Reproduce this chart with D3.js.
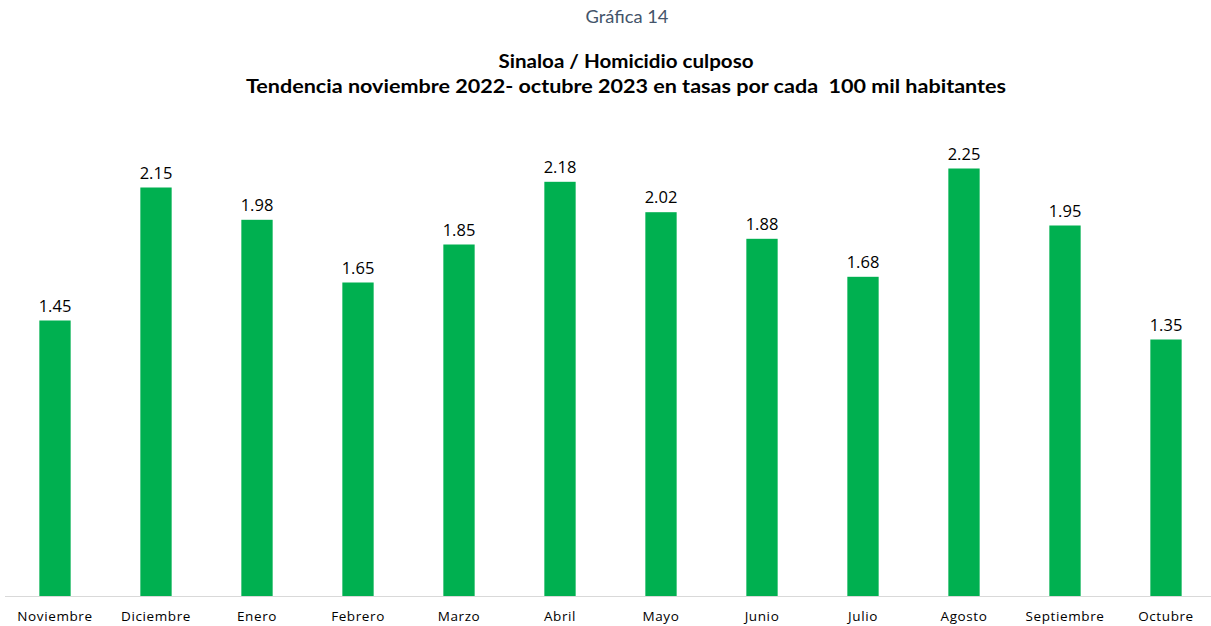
<!DOCTYPE html>
<html><head><meta charset="utf-8">
<script src="https://cdn.jsdelivr.net/npm/d3@7"></script>
<style>body{margin:0;background:#fff}svg{display:block}</style>
</head><body>
<script>
const categories = ["Noviembre","Diciembre","Enero","Febrero","Marzo","Abril","Mayo","Junio","Julio","Agosto","Septiembre","Octubre"];
const values = [1.45,2.15,1.98,1.65,1.85,2.18,2.02,1.88,1.68,2.25,1.95,1.35];
const supTitle = "Gráfica 14";
const titleLines = ["Sinaloa / Homicidio culposo","Tendencia noviembre 2022- octubre 2023 en tasas por cada  100 mil habitantes"];
const titleWidths = [255, 760];

const W = 1211, H = 626;
const svg = d3.select("body").append("svg").attr("width", W).attr("height", H);
const x = d3.scaleBand().domain(categories).range([4.5, 1216.5]).paddingInner(0.69).paddingOuter(0.345);
const y = d3.scaleLinear().domain([0, 2.25]).range([596, 168.5]);

svg.append("text").attr("x", 627).attr("y", 23).attr("text-anchor","middle")
  .attr("font-family","Lato").attr("font-size",17).attr("fill","#44546A")
  .attr("textLength",83).attr("lengthAdjust","spacingAndGlyphs").text(supTitle);
svg.selectAll("text.title").data(titleLines).enter().append("text").attr("class","title")
  .attr("x", 626).attr("y",(d,i)=>68+i*25).attr("text-anchor","middle")
  .attr("font-family","Lato").attr("font-weight","bold").attr("font-size",18).attr("fill","#000")
  .attr("textLength",(d,i)=>titleWidths[i]).attr("lengthAdjust","spacingAndGlyphs")
  .style("white-space","pre").text(d=>d);

svg.append("line").attr("x1",5).attr("x2",1211).attr("y1",596.5).attr("y2",596.5)
  .attr("stroke","#d9d9d9").attr("stroke-width",1);

svg.selectAll("rect.bar").data(values).enter().append("rect")
  .attr("x",(d,i)=>x(categories[i])).attr("width",x.bandwidth())
  .attr("y",d=>y(d)).attr("height",d=>y(0)-y(d)).attr("fill","#00B050");

svg.selectAll("text.val").data(values).enter().append("text")
  .attr("x",(d,i)=>x(categories[i])+x.bandwidth()/2).attr("y",d=>y(d)-9)
  .attr("text-anchor","middle").attr("font-family","Open Sans").attr("font-size",16.5).attr("fill","#000")
  .text(d=>d3.format(".2f")(d));

const xAxis = d3.axisBottom(x).tickSize(0).tickPadding(15);
const g = svg.append("g").attr("transform","translate(0,596)").call(xAxis);
g.select(".domain").remove();
g.selectAll("text").attr("font-family","Open Sans").attr("font-size",13.5).attr("fill","#000").attr("letter-spacing","0.6px");
</script>
</body></html>
